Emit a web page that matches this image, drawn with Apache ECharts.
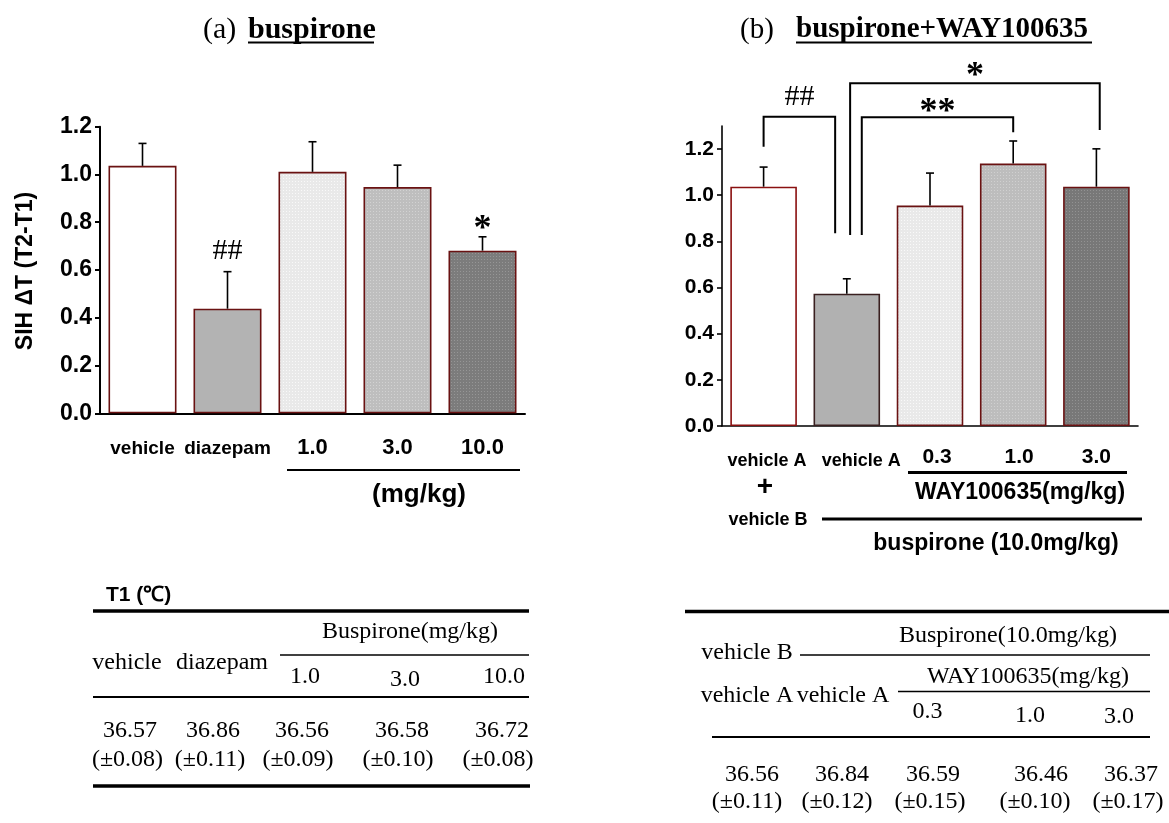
<!DOCTYPE html>
<html>
<head>
<meta charset="utf-8">
<title>SIH ΔT — buspirone</title>
<script src="https://cdn.jsdelivr.net/npm/echarts@6/dist/echarts.min.js"></script>
<style>
  html, body { margin: 0; padding: 0; background: #fff; }
  #chart { width: 1169px; height: 823px; }
</style>
</head>
<body>
<div id="chart"></div>
<script>
// ---------- data: panel (a) buspirone ----------
const catsA = ['vehicle', 'diazepam', '1.0', '3.0', '10.0'];
const meanA = [1.036, 0.438, 1.011, 0.947, 0.681];
const semA  = [0.094, 0.155, 0.126, 0.092, 0.058];
const marksA = ['', '##', '', '', '*'];

// ---------- data: panel (b) buspirone + WAY100635 ----------
const catsB = ['vehicle A', 'vehicle A', '0.3', '1.0', '3.0'];
const meanB = [1.037, 0.573, 0.955, 1.137, 1.037];
const semB  = [0.085, 0.065, 0.141, 0.098, 0.164];

// y tick labels shared by both panels
const yTicks = [0, 0.2, 0.4, 0.6, 0.8, 1.0, 1.2];

// significance brackets in panel (b): left/right position (in category units),
// left foot, top, right foot (in ΔT units)
const bracketLeft  = [0.0, 1.04, 1.18];
const bracketRight = [0.86, 4.04, 3.0];
const bracketFootL = [1.21, 0.828, 0.828];
const bracketTop   = [1.34, 1.485, 1.338];
const bracketFootR = [0.835, 1.283, 1.273];
const bracketText  = ['##', '*', '**'];

// T1 (°C) tables
const tabA_groups = ['vehicle', 'diazepam'];
const tabA_doses  = ['1.0', '3.0', '10.0'];
const tabA_mean   = ['36.57', '36.86', '36.56', '36.58', '36.72'];
const tabA_sem    = ['0.08', '0.11', '0.09', '0.10', '0.08'];
const tabB_doses  = ['0.3', '1.0', '3.0'];
const tabB_mean   = ['36.56', '36.84', '36.59', '36.46', '36.37'];
const tabB_sem    = ['0.11', '0.12', '0.15', '0.10', '0.17'];

// ---------- styling helpers ----------
function dots(base, dot) {
  const c = document.createElement('canvas');
  c.width = 3; c.height = 3;
  const g = c.getContext('2d');
  g.fillStyle = base; g.fillRect(0, 0, 3, 3);
  g.fillStyle = dot;  g.fillRect(1, 1, 1, 1);
  return { image: c, repeat: 'repeat' };
}
const EDGE = '#6a1212';
const fillsA = ['#ffffff', '#b3b3b3', dots('#e9e9e9', '#f9f9f9'), dots('#bebebe', '#d2d2d2'), dots('#7c7c7c', '#969696')];
const fillsB = ['#ffffff', '#b1b1b1', dots('#e9e9e9', '#f9f9f9'), dots('#bdbdbd', '#d0d0d0'), dots('#787878', '#929292')];
const edgesB = ['#8a1010', '#3a2020', EDGE, EDGE, EDGE];

const SANS = '"Liberation Sans", Arial, sans-serif';
const SERIF = '"Liberation Serif", "Times New Roman", serif';

function barData(means, fills, edges) {
  return means.map((v, i) => ({
    value: v,
    itemStyle: { color: fills[i], borderColor: edges ? edges[i] : EDGE, borderWidth: 1.6 }
  }));
}

// significance marks: '#' sits near the text middle, '*' rides high in the em box
function markText(t, x, yAbove) {
  const star = t.indexOf('*') >= 0;
  return {
    type: 'text', x: x, y: star ? yAbove + 8.5 : yAbove,
    style: {
      text: t,
      font: star ? 'bold 36px ' + SERIF : '30px ' + SERIF,
      fill: '#000', align: 'center', verticalAlign: 'middle'
    }
  };
}

function errorSeries(idx, means, sems, marks) {
  return {
    type: 'custom', xAxisIndex: idx, yAxisIndex: idx, z: 5, clip: false, silent: true,
    encode: { x: 0, y: 1 },
    data: means.map((m, i) => [i, m, sems[i]]),
    renderItem(params, api) {
      const i = api.value(0), m = api.value(1), s = api.value(2);
      const p0 = api.coord([i, m]);
      const p1 = api.coord([i, m + s]);
      const st = { stroke: '#000', lineWidth: 1.6 };
      const kids = [
        { type: 'line', shape: { x1: p0[0], y1: p0[1], x2: p1[0], y2: p1[1] }, style: st },
        { type: 'line', shape: { x1: p1[0] - 4, y1: p1[1], x2: p1[0] + 4, y2: p1[1] }, style: st }
      ];
      const mk = marks ? marks[params.dataIndex] : '';
      if (mk) {
        const star = mk.indexOf('*') >= 0;
        kids.push(markText(mk, p1[0], p1[1] - (star ? 16 : 21)));
      }
      return { type: 'group', children: kids };
    }
  };
}

const bracketSeries = {
  type: 'custom', xAxisIndex: 1, yAxisIndex: 1, z: 6, clip: false, silent: true,
  encode: { x: 0, y: 3 },
  data: bracketLeft.map((l, i) => [0, l, bracketRight[i], bracketFootL[i], bracketTop[i], bracketFootR[i]]),
  renderItem(params, api) {
    const base = api.coord([0, 0])[0];
    const bw = api.size([1, 0])[0];
    const xl = base + api.value(1) * bw;
    const xr = base + api.value(2) * bw;
    const yl = api.coord([0, api.value(3)])[1];
    const yt = api.coord([0, api.value(4)])[1];
    const yr = api.coord([0, api.value(5)])[1];
    const t = bracketText[params.dataIndex];
    const star = t.indexOf('*') >= 0;
    return {
      type: 'group',
      children: [
        { type: 'polyline', shape: { points: [[xl, yl], [xl, yt], [xr, yt], [xr, yr]] },
          style: { stroke: '#000', lineWidth: 2, fill: null } },
        markText(t, (xl + xr) / 2, yt - (star ? (t.length > 1 ? 13 : 15) : 20))
      ]
    };
  }
};

// ---------- decorations: titles, axis notes, tables ----------
function txt(text, x, y, font, align, extra) {
  return Object.assign({
    type: 'text', x: x, y: y, silent: true,
    style: { text: text, font: font, fill: '#000', align: align || 'center', verticalAlign: 'middle' }
  }, extra || {});
}
function hline(x1, x2, y, w) {
  return { type: 'line', silent: true, shape: { x1: x1, y1: y, x2: x2, y2: y }, style: { stroke: '#000', lineWidth: w } };
}

const g = [];
// titles
g.push(txt('(a)', 203, 30, '30px ' + SERIF, 'left'));
g.push(txt('buspirone', 248, 30, 'bold 30px ' + SERIF, 'left'));
g.push(hline(248, 374, 42.5, 2));
g.push(txt('(b)', 740, 30, '29px ' + SERIF, 'left'));
g.push(txt('buspirone+WAY100635', 796, 30, 'bold 29px ' + SERIF, 'left'));
g.push(hline(796, 1092, 42.5, 2));

// y axis title of panel (a)
g.push(txt('SIH ΔT (T2-T1)', 26, 271, 'bold 23px ' + SANS, 'center', { rotation: Math.PI / 2 }));

// panel (a) dose bracket
g.push(hline(287, 520, 470, 2));
g.push(txt('(mg/kg)', 419, 495, 'bold 26px ' + SANS));

// panel (b) treatment notes
g.push(hline(908, 1127, 472.5, 3));
g.push(txt('WAY100635(mg/kg)', 1020, 493, 'bold 23px ' + SANS));
g.push(txt('+', 765, 487, 'bold 28px ' + SANS));
g.push(txt('vehicle B', 768, 520, 'bold 18px ' + SANS));
g.push(hline(822, 1142, 519, 3));
g.push(txt('buspirone (10.0mg/kg)', 996, 544, 'bold 23px ' + SANS));

// table (a)
const TF = '24px ' + SERIF;
g.push(txt('T1 (℃)', 106, 595, 'bold 21px ' + SANS, 'left'));
g.push(hline(93, 529, 611, 3.5));
g.push(txt('Buspirone(mg/kg)', 410, 632, TF));
g.push(hline(280, 529, 655, 1.5));
g.push(txt(tabA_groups[0], 127, 663, TF));
g.push(txt(tabA_groups[1], 222, 663, TF));
[[305, 677], [405, 680], [504, 677]].forEach((p, i) => g.push(txt(tabA_doses[i], p[0], p[1], TF)));
g.push(hline(93, 529, 697, 2));
const colA1 = [130, 213, 302, 402, 502];
const colA2 = [127.5, 210, 298, 398, 498];
tabA_mean.forEach((v, i) => g.push(txt(v, colA1[i], 731, TF)));
tabA_sem.forEach((v, i) => g.push(txt('(±' + v + ')', colA2[i], 760, TF)));
g.push(hline(93, 530, 786, 3.5));

// table (b)
g.push(hline(685, 1169, 611.5, 3.5));
g.push(txt('Buspirone(10.0mg/kg)', 1008, 636, TF));
g.push(txt('vehicle B', 747, 653, TF));
g.push(hline(800, 1150, 655, 1.5));
g.push(txt('WAY100635(mg/kg)', 1028, 677, TF));
g.push(txt('vehicle A', 747, 696, TF));
g.push(txt('vehicle A', 843, 696, TF));
g.push(hline(898, 1150, 691.5, 1.5));
[[927.5, 712], [1030, 716], [1119, 717]].forEach((p, i) => g.push(txt(tabB_doses[i], p[0], p[1], TF)));
g.push(hline(712, 1150, 737, 2));
const colB1 = [752, 842, 933, 1041, 1131];
const colB2 = [747, 837, 930, 1035, 1128];
tabB_mean.forEach((v, i) => g.push(txt(v, colB1[i], 775, TF)));
tabB_sem.forEach((v, i) => g.push(txt('(±' + v + ')', colB2[i], 802, TF)));

// ---------- axes ----------
function yAxisCfg(idx, max, fs, lw) {
  return {
    type: 'value', gridIndex: idx, min: 0, max: max, interval: 0.2,
    splitLine: { show: false },
    axisLine: { show: true, lineStyle: { color: '#000', width: lw } },
    axisTick: { show: true, length: 5, lineStyle: { color: '#000', width: lw }, customValues: yTicks },
    axisLabel: {
      customValues: yTicks, margin: 8, color: '#000',
      fontFamily: SANS, fontWeight: 'bold', fontSize: fs,
      formatter: v => Number(v).toFixed(1)
    }
  };
}

const richA = {
  t: { fontFamily: SANS, fontWeight: 'bold', fontSize: 19, lineHeight: 22, color: '#000' },
  n: { fontFamily: SANS, fontWeight: 'bold', fontSize: 22, lineHeight: 22, color: '#000' }
};
const richB = {
  v0: { fontFamily: SANS, fontWeight: 'bold', fontSize: 18, lineHeight: 20, color: '#000', padding: [0, 0, 0, 7] },
  v1: { fontFamily: SANS, fontWeight: 'bold', fontSize: 18, lineHeight: 20, color: '#000', padding: [0, 0, 0, 29] },
  v2: { fontFamily: SANS, fontWeight: 'bold', fontSize: 21, lineHeight: 13, color: '#000', padding: [0, 0, 0, 14] },
  v3: { fontFamily: SANS, fontWeight: 'bold', fontSize: 21, lineHeight: 13, color: '#000', padding: [0, 0, 0, 12] },
  v4: { fontFamily: SANS, fontWeight: 'bold', fontSize: 21, lineHeight: 13, color: '#000' }
};

const option = {
  backgroundColor: '#fff',
  animation: false,
  grid: [
    { left: 100, top: 126.7, width: 425, height: 286.6 },
    { left: 722, top: 126, width: 416, height: 300 }
  ],
  xAxis: [
    {
      type: 'category', gridIndex: 0, data: catsA,
      axisLine: { lineStyle: { color: '#000', width: 2 } },
      axisTick: { alignWithLabel: true, length: 6, lineStyle: { color: '#000', width: 2 } },
      axisLabel: { interval: 0, margin: 24, rich: richA,
        formatter: (v, i) => (i < 2 ? '{t|' : '{n|') + v + '}' }
    },
    {
      type: 'category', gridIndex: 1, data: catsB,
      axisLine: { lineStyle: { color: '#000', width: 1.6 } },
      axisTick: { alignWithLabel: true, length: 6, lineStyle: { color: '#000', width: 1.6 } },
      axisLabel: { interval: 0, margin: 25, rich: richB,
        formatter: (v, i) => '{v' + i + '|' + v + '}' }
    }
  ],
  yAxis: [yAxisCfg(0, 1.2, 23, 2), yAxisCfg(1, 1.3, 21, 1.6)],
  series: [
    { type: 'bar', xAxisIndex: 0, yAxisIndex: 0, barWidth: '80%', z: 2, data: barData(meanA, fillsA) },
    { type: 'bar', xAxisIndex: 1, yAxisIndex: 1, barWidth: '80%', z: 2, data: barData(meanB, fillsB, edgesB) },
    errorSeries(0, meanA, semA, marksA),
    errorSeries(1, meanB, semB, null),
    bracketSeries
  ],
  graphic: { elements: g }
};

const chart = echarts.init(document.getElementById('chart'), null, { renderer: 'canvas' });
chart.setOption(option);
</script>
</body>
</html>
